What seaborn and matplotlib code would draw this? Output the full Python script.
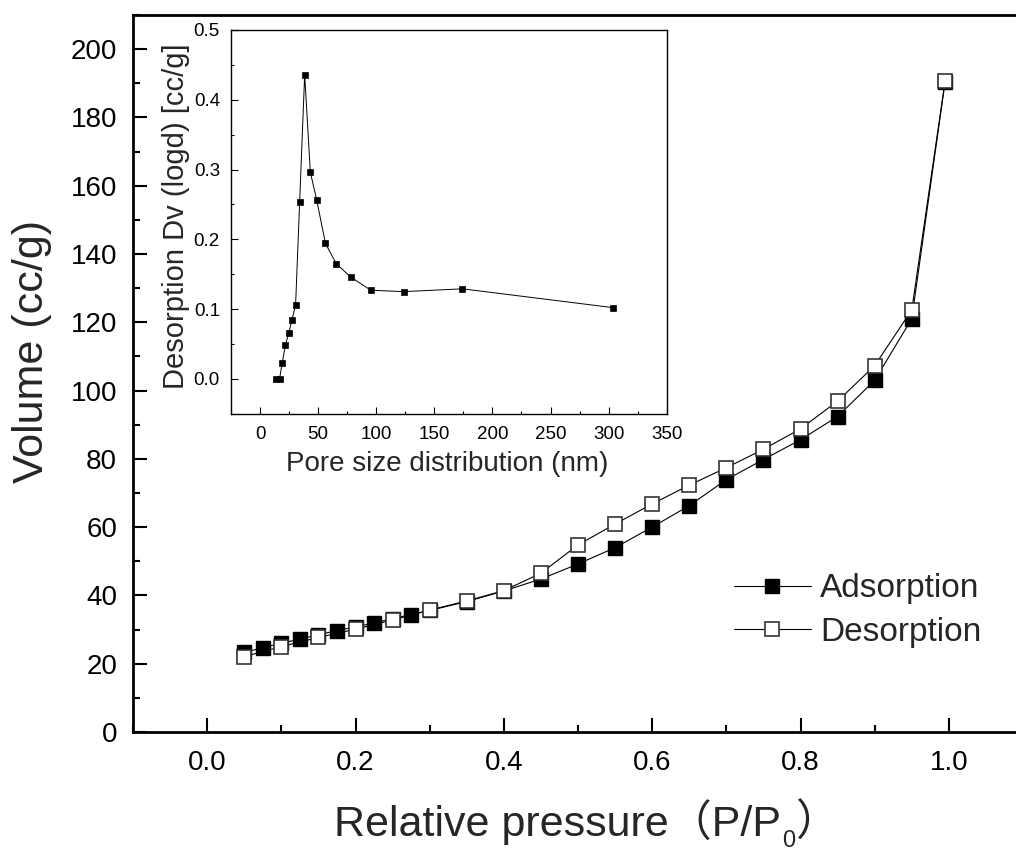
import matplotlib
matplotlib.use("Agg")
import matplotlib.pyplot as plt
import seaborn as sns
from matplotlib.ticker import FormatStrFormatter, MultipleLocator

# N2 isotherm
ads_p = [0.05, 0.075, 0.1, 0.125, 0.15, 0.175, 0.2, 0.225, 0.25, 0.275, 0.3,
         0.35, 0.4, 0.45, 0.5, 0.55, 0.6, 0.65, 0.7, 0.75, 0.8, 0.85, 0.9,
         0.95, 0.995]
ads_v = [23.3, 24.7, 26.0, 27.2, 28.5, 29.7, 30.8, 31.9, 33.2, 34.4, 35.6,
         38.2, 41.3, 44.8, 49.2, 54.0, 60.0, 66.3, 73.9, 79.8, 85.6, 92.4,
         103.0, 121.0, 190.5]
des_p = [0.995, 0.95, 0.9, 0.85, 0.8, 0.75, 0.7, 0.65, 0.6, 0.55, 0.5, 0.45,
         0.4, 0.35, 0.3, 0.25, 0.2, 0.15, 0.1, 0.05]
des_v = [190.7, 123.6, 107.3, 96.9, 88.8, 82.8, 77.4, 72.3, 66.8, 60.9, 54.8,
         46.5, 41.4, 38.4, 35.7, 32.8, 30.1, 27.7, 25.0, 22.1]

# pore size distribution (inset)
pore_d = [13.9, 16.8, 19.1, 21.9, 24.6, 27.4, 30.6, 34.1, 38.4, 43.3, 48.8,
          56.3, 65.6, 78.0, 95.3, 123.6, 174.2, 303.9]
pore_dv = [0.0, 0.0, 0.023, 0.049, 0.065, 0.084, 0.106, 0.254, 0.436, 0.296,
           0.256, 0.194, 0.165, 0.146, 0.127, 0.125, 0.129, 0.102]

main_xticks = [0.0, 0.2, 0.4, 0.6, 0.8, 1.0]
main_yticks = [0, 20, 40, 60, 80, 100, 120, 140, 160, 180, 200]
inset_xticks = [0, 50, 100, 150, 200, 250, 300, 350]
inset_yticks = [0.0, 0.1, 0.2, 0.3, 0.4, 0.5]

sns.set_theme(style="ticks", rc={
    "axes.edgecolor": "black",
    "xtick.color": "black",
    "ytick.color": "black",
    "xtick.direction": "in",
    "ytick.direction": "in",
})
plt.rcParams["font.family"] = ["Liberation Sans", "Noto Sans CJK SC", "DejaVu Sans"]

fig = plt.figure(figsize=(10.16, 8.52), dpi=100)
ax = fig.add_axes([133 / 1016, 120 / 852, 890 / 1016, 717 / 852])

sns.lineplot(x=ads_p, y=ads_v, ax=ax, color="black", linewidth=0.8,
             marker="s", markersize=10, markerfacecolor="black",
             markeredgecolor="black", markeredgewidth=1, label="Adsorption")
sns.lineplot(x=des_p, y=des_v, ax=ax, color="black", linewidth=0.8,
             marker="s", markersize=10, markerfacecolor="white",
             markeredgecolor="#333333", markeredgewidth=1.2,
             label="Desorption", sort=False)

ax.set_xlim(-0.1, 1.1)
ax.set_ylim(0, 210)
ax.set_xticks(main_xticks)
ax.set_yticks(main_yticks)
ax.xaxis.set_major_formatter(FormatStrFormatter("%.1f"))
ax.yaxis.set_major_formatter(FormatStrFormatter("%d"))
ax.xaxis.set_minor_locator(MultipleLocator(0.1))
ax.yaxis.set_minor_locator(MultipleLocator(10))
ax.tick_params(which="major", length=10, width=1.5, labelsize=20)
ax.tick_params(axis="x", which="major", pad=13)
ax.tick_params(axis="y", which="major", pad=11.5)
ax.tick_params(which="minor", length=5, width=1.5)
for s in ax.spines.values():
    s.set_linewidth(2)

ax.set_ylabel("Volume (cc/g)", fontsize=31)
ax.yaxis.set_label_coords(-0.091, 0.53)

# x label built in pieces: full-width brackets and a lowered 0
t1 = fig.text(334 / 1016, 1 - 836 / 852, "Relative pressure（P/P",
              fontsize=31, ha="left", va="baseline")
t2 = ax.annotate("0", xy=(1, 0), xycoords=t1, xytext=(0.5, 10.5),
                 textcoords="offset points", fontsize=17, ha="left", va="top")
ax.annotate("）", xy=(1, 0), xycoords=(t2, t1), xytext=(0, 0),
            textcoords="offset points", fontsize=31, ha="left", va="bottom")

ax.legend(loc="center left", bbox_to_anchor=(733.5 / 1016, 1 - 610.5 / 852),
          bbox_transform=fig.transFigure, frameon=False, fontsize=24,
          handlelength=2.33, handletextpad=0.27, labelspacing=0.36,
          borderpad=0, borderaxespad=0)

# inset: pore size distribution
axin = fig.add_axes([231 / 1016, 438.3 / 852, 435.7 / 1016, 383.7 / 852])
sns.lineplot(x=pore_d, y=pore_dv, ax=axin, color="black", linewidth=0.7,
             marker="s", markersize=5, markerfacecolor="black",
             markeredgecolor="black", markeredgewidth=0.5)
axin.set_xlim(-25, 350)
axin.set_ylim(-0.05, 0.5)
axin.set_xticks(inset_xticks)
axin.set_yticks(inset_yticks)
axin.xaxis.set_major_formatter(FormatStrFormatter("%d"))
axin.yaxis.set_major_formatter(FormatStrFormatter("%.1f"))
axin.xaxis.set_minor_locator(MultipleLocator(25))
axin.yaxis.set_minor_locator(MultipleLocator(0.05))
axin.tick_params(which="major", length=5, width=0.8, labelsize=13.5)
axin.tick_params(axis="x", which="major", pad=9)
axin.tick_params(axis="y", which="major", pad=8)
axin.tick_params(which="minor", length=2.5, width=0.8)
for s in axin.spines.values():
    s.set_linewidth(1)
axin.set_xlabel("Pore size distribution (nm)", fontsize=20)
axin.xaxis.set_label_coords(0.497, -0.097)
axin.set_ylabel("Desorption Dv (logd) [cc/g]", fontsize=21)
axin.yaxis.set_label_coords(-0.095, 0.514)

fig.savefig("out.png", dpi=100)
